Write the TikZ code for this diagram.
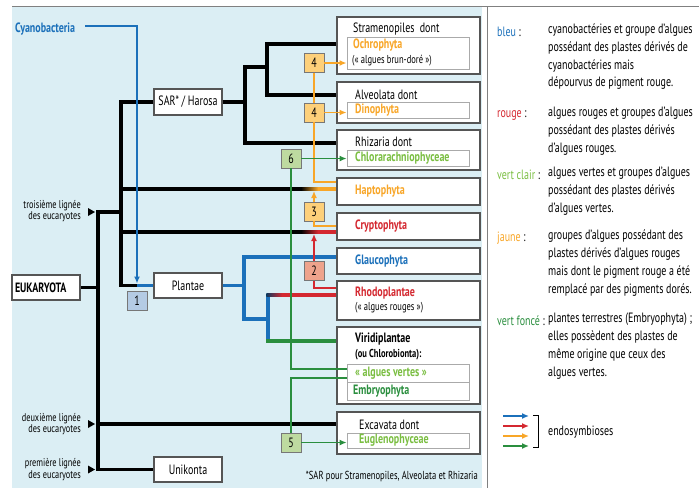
\documentclass[tikz,border=0pt]{standalone}
\usepackage{fontspec}
\setmainfont{PT Sans}[FakeStretch=0.74]
\usetikzlibrary{arrows.meta}
\definecolor{bgC}{RGB}{219,238,244}
\definecolor{blueC}{RGB}{27,112,186}
\definecolor{redC}{RGB}{212,40,48}
\definecolor{orangeC}{RGB}{248,166,40}
\definecolor{lgreenC}{RGB}{122,190,65}
\definecolor{dgreenC}{RGB}{42,142,62}
\definecolor{boxB}{RGB}{85,85,85}
\definecolor{iboxB}{RGB}{170,170,170}
\definecolor{fillBlue}{RGB}{180,203,228}
\definecolor{fillRed}{RGB}{238,163,140}
\definecolor{fillOr}{RGB}{253,208,122}
\definecolor{fillGr}{RGB}{190,218,160}
\newcommand\lblfont{\fontsize{13.5}{15}\selectfont}
\newcommand\smlfont{\fontsize{11.5}{13}\selectfont}
\newcommand\tinyfont{\fontsize{11.2}{11.5}\selectfont}
\newcommand\footfont{\fontsize{11.6}{13}\selectfont}
\newcommand\legfont{\fontsize{13.5}{17.8}\selectfont}
\begin{document}
\begin{tikzpicture}[x=1pt,y=-1pt,
  box/.style={draw=boxB,line width=1.1pt,fill=white,inner sep=0pt},
  ibox/.style={draw=iboxB,line width=0.9pt,fill=white,inner sep=0pt},
  numbox/.style={draw=boxB!80,line width=0.9pt,minimum width=20pt,minimum height=19pt,inner sep=0pt,font=\lblfont},
  txt/.style={anchor=west,inner sep=0pt,font=\lblfont},
  btxt/.style={anchor=west,inner sep=0pt,font=\lblfont\bfseries},
  tree/.style={line width=3.2pt,black},
  treeB/.style={line width=3.2pt,blueC},
  conO/.style={line width=1.5pt,orangeC},
  conR/.style={line width=1.5pt,redC},
  conG/.style={line width=1.2pt,dgreenC},
  conB/.style={line width=1.5pt,blueC},
  tip/.style={-{Latex[length=7pt,width=6pt]}},
  side/.style={anchor=east,inner sep=0pt,align=right,font=\tinyfont},
  legl/.style={anchor=west,inner sep=0pt,font=\lblfont},
  legd/.style={anchor=north west,inner sep=0pt,align=left,font=\legfont}
]
\useasboundingbox (0,0) rectangle (699,488);
% background panel and frame lines
\fill[bgC] (12,7) rectangle (482,488);
\draw[gray,line width=0.9pt] (12,6) -- (699,6);
\draw[gray,line width=0.9pt] (487,6) -- (487,488);

% ---------- boxes ----------
\node[box,minimum width=68pt,minimum height=25pt,font=\lblfont\bfseries] (euk) at (46,287.5) {\makebox[66pt][l]{\hspace{2pt}EUKARYOTA}};
\node[box,minimum width=68pt,minimum height=26pt,font=\lblfont] (sar) at (188,102) {SAR* / Harosa};
\node[box,minimum width=68pt,minimum height=25pt,font=\lblfont] (plantae) at (188,285.5) {Plantae};
\node[box,minimum width=68pt,minimum height=25pt,font=\lblfont] (uni) at (188,469.5) {Unikonta};

\node[box,minimum width=143pt,minimum height=57pt] (stram) at (408.5,45.5) {};
\node[box,minimum width=143pt,minimum height=41pt] (alv) at (408.5,102.5) {};
\node[box,minimum width=143pt,minimum height=40pt] (rhiz) at (408.5,150) {};
\node[box,minimum width=143pt,minimum height=27pt] (hapto) at (408.5,191.5) {};
\node[box,minimum width=143pt,minimum height=27pt] (crypto) at (408.5,226.5) {};
\node[box,minimum width=143pt,minimum height=26pt] (glauco) at (408.5,261) {};
\node[box,minimum width=143pt,minimum height=39pt] (rhodo) at (408.5,300.5) {};
\node[box,minimum width=143pt,minimum height=77pt] (viridi) at (408.5,365.5) {};
\node[box,minimum width=143pt,minimum height=42pt] (excav) at (408.5,433) {};

\node[ibox,minimum width=122pt,minimum height=32pt] (ochro) at (408,53) {};
\node[ibox,minimum width=122pt,minimum height=16pt] (dino) at (408,110) {};
\node[ibox,minimum width=122pt,minimum height=16pt] (chlor) at (408,158) {};
\node[ibox,minimum width=122pt,minimum height=18pt] (avertes) at (408,373) {};
\node[ibox,minimum width=122pt,minimum height=18pt] (embryo) at (408,391) {};
\node[ibox,minimum width=122pt,minimum height=15pt] (eugleno) at (408,440.5) {};

% ---------- texts in boxes ----------
\node[txt] (tStram) at (353,29) {Stramenopiles~~dont};
\node[btxt,text=orangeC] (tOchro) at (353,45) {Ochrophyta};
\node[txt,font=\smlfont] (tOchro2) at (352,61) {(« algues brun-doré »)};
\node[txt] (tAlv) at (355,95) {Alveolata dont};
\node[btxt,text=orangeC] (tDino) at (355,110) {Dinophyta};
\node[txt] (tRhiz) at (355,142) {Rhizaria dont};
\node[btxt,text=lgreenC] (tChl) at (355,158) {Chlorarachniophyceae};
\node[btxt,text=orangeC] (tHap) at (355,191.5) {Haptophyta};
\node[btxt,text=redC] (tCry) at (355,226.5) {Cryptophyta};
\node[btxt,text=blueC] (tGla) at (355,261) {Glaucophyta};
\node[btxt,text=redC] (tRho) at (355,293) {Rhodoplantae};
\node[txt,font=\smlfont] (tRho2) at (355,308) {(« algues rouges »)};
\node[btxt] (tVir) at (355,339) {Viridiplantae};
\node[btxt,font=\smlfont\bfseries] (tVir2) at (355,355) {(ou Chlorobionta):};
\node[btxt,text=lgreenC] (tAV) at (355,373) {« algues vertes »};
\node[btxt,text=dgreenC] (tEmb) at (353,391) {Embryophyta};
\node[txt] (tExc) at (359,425) {Excavata dont};
\node[btxt,text=lgreenC] (tEug) at (359,440.5) {Euglenophyceae};

% ---------- left side labels ----------
\node[btxt,text=blueC] (cyano) at (15,29) {Cyanobacteria};
\node[side] (l3) at (81,211) {troisième lignée\\des eucaryotes};
\node[side] (l2) at (81,424) {deuxième lignée\\des eucaryotes};
\node[side] (l1) at (81,469.5) {première lignée\\des eucaryotes};
\fill (88,208) -- (95,212) -- (88,216) -- cycle;
\fill (88,420) -- (95,424) -- (88,428) -- cycle;
\fill (88,465.5) -- (95,469.5) -- (88,473.5) -- cycle;
\node[anchor=east,inner sep=0pt,font=\footfont] (foot) at (478,477) {*SAR pour Stramenopiles, Alveolata et Rhizaria};

% ---------- coordinates ----------
\coordinate (kE) at (98,287.5);
\coordinate (k3) at (98,212);
\coordinate (k3b) at (121,212);
\coordinate (k2) at (98,424);
\coordinate (k1) at (98,469.5);
\coordinate (kH) at (121,189);
\coordinate (kC) at (121,232);
\coordinate (kP) at (121,285.5);
\coordinate (plj) at (137,285.5);
\coordinate (tSAR) at (245,102);
\coordinate (tSA) at (245,67);
\coordinate (tR) at (245,143);
\coordinate (tS) at (267,44);
\coordinate (tA) at (267,95);
\coordinate (gH1) at (301,189);
\coordinate (gH2) at (318,189);
\coordinate (gC1) at (301,232);
\coordinate (gC2) at (318,232);
\coordinate (bP) at (244,285.5);
\coordinate (bG) at (244,257);
\coordinate (bL) at (244,319);
\coordinate (bR) at (268,319);
\coordinate (bRt) at (268,295);
\coordinate (bRt2) at (282,295);
\coordinate (bV) at (268,341);
\coordinate (bV0) at (266.4,341);

% ---------- black tree ----------
\draw[tree] (euk.east) -- (kE);
\draw[tree] (k3b) -- (k3) -- (k1) -- (uni.west);
\draw[tree] (k2) -- (k2 -| excav.west);
\draw[tree] (sar.west) -| (kP) -- (plj);
\draw[tree] (kH) -- (gH1);
\draw[tree] (kC) -- (gC1);
\shade[left color=black,right color=orangeC] (301,187.4) rectangle (318,190.6);
\shade[left color=black,right color=redC] (301,230.4) rectangle (318,233.6);
\draw[tree,orangeC] (gH2) -- (gH2 -| hapto.west);
\draw[tree,redC] (gC2) -- (gC2 -| crypto.west);
\draw[tree] (sar.east) -- (tSAR);
\draw[tree] (tS -| stram.west) -- (tS) -- (tA) -- (tA -| alv.west);
\draw[tree] (tSA -| tS) -- (tSA) -- (tR) -- (tR -| rhiz.west);

% ---------- blue tree ----------
\draw[treeB] (plj) -- (plantae.west);
\draw[treeB] (plantae.east) -- (bP);
\draw[treeB] (bG -| glauco.west) -- (bG) -- (bL) -- (bR);
\draw[treeB] (bRt) -- (bV);
\shade[left color=blueC!50!black,right color=redC] (266.4,293.4) rectangle (282,296.6);
\draw[tree,redC] (bRt2) -- (bRt2 -| rhodo.west);
\draw[line width=3.8pt,dgreenC] (bV0) -- (bV -| viridi.west);

% ---------- number boxes ----------
\node[numbox,fill=fillBlue] (n1) at (137,301) {1};
\node[numbox,fill=fillOr] (n4a) at (314,63) {4};
\node[numbox,fill=fillOr] (n4b) at (314,112.5) {4};
\node[numbox,fill=fillGr] (n6) at (291,158.5) {6};
\node[numbox,fill=fillOr] (n3) at (314,211.5) {3};
\node[numbox,fill=fillRed] (n2) at (314,271) {2};
\node[numbox,fill=fillGr] (n5) at (291,442.5) {5};

% ---------- endosymbiosis connectors ----------
\coordinate (cy0) at (85,26);
\coordinate (cyT) at (137,283.5);
\draw[conB,tip] (cy0) -| (cyT);
% orange
\coordinate (oH) at (314,182);
\coordinate (oC) at (314,226);
\coordinate (oT) at (314,191);
\draw[conO,tip] (n4a.east) -- (n4a.east -| ochro.west);
\draw[conO,tip] (n4b.east) -- (n4b.east -| dino.west);
\draw[conO] (n4a.south) -- (n4b.north);
\draw[conO] (n4b.south) -- (oH) -- (oH -| hapto.west);
\draw[conO,tip] (n3.north) -- (oT);
\draw[conO] (n3.south) -- (oC) -- (oC -| crypto.west);
% red
\coordinate (rT) at (314,234);
\coordinate (rR) at (314,288);
\draw[conR,tip] (n2.north) -- (rT);
\draw[conR] (n2.south) -- (rR) -- (rR -| rhodo.west);
% green
\coordinate (g6) at (291,369);
\coordinate (g5) at (291,378);
\draw[conG,tip] (n6.east) -- (n6.east -| chlor.west);
\draw[conG] (n6.south) -- (g6) -- (g6 -| avertes.west);
\draw[conG] (g5 -| avertes.west) -- (g5) -- (n5.north);
\draw[conG,tip] (n5.east) -- (n5.east -| eugleno.west);

% ---------- legend ----------
\node[legl] (lb) at (497,31.7) {\textcolor{blueC}{bleu} :};
\node[legd] (db) at (548,23.5) {cyanobactéries et groupe d’algues\\possédant des plastes dérivés de\\cyanobactéries mais\\dépourvus de pigment rouge.};
\node[legl] (lr) at (497,115) {\textcolor{redC}{rouge} :};
\node[legd] (dr) at (548,106.8) {algues rouges et groupes d’algues\\possédant des plastes dérivés\\d’algues rouges.};
\node[legl] (lv) at (497,175) {\textcolor{lgreenC}{vert clair} :};
\node[legd] (dv) at (548,166.8) {algues vertes et groupes d’algues\\possédant des plastes dérivés\\d’algues vertes.};
\node[legl] (lj) at (497,238) {\textcolor{orangeC}{jaune} :};
\node[legd] (dj) at (548,229.8) {groupes d’algues possédant des\\plastes dérivés d’algues rouges\\mais dont le pigment rouge a été\\remplacé par des pigments dorés.};
\node[legl] (lf) at (497,321) {\textcolor{dgreenC}{vert foncé} :};
\node[legd] (df) at (548,312.8) {plantes terrestres (Embryophyta) ;\\elles possèdent des plastes de\\même origine que ceux des\\algues vertes.};
\coordinate (a1) at (503,416); \coordinate (a1e) at (529,416);
\coordinate (a2) at (503,426); \coordinate (a2e) at (529,426);
\coordinate (a3) at (503,436); \coordinate (a3e) at (529,436);
\coordinate (a4) at (503,446); \coordinate (a4e) at (529,446);
\draw[conB,tip] (a1) -- (a1e);
\draw[conR,tip] (a2) -- (a2e);
\draw[conO,tip] (a3) -- (a3e);
\draw[conG,line width=1.5pt,tip] (a4) -- (a4e);
\draw[line width=1pt] (533,415) -- (538,415) -- (538,447) -- (533,447);
\node[legl] (endo) at (548,432) {endosymbioses};
\end{tikzpicture}
\end{document}
